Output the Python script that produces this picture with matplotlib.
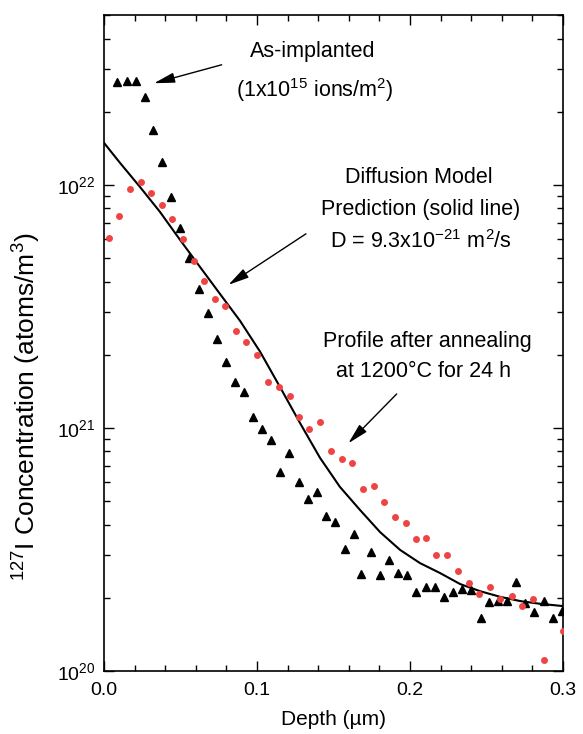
import matplotlib
matplotlib.use("Agg")
import matplotlib.pyplot as plt
from matplotlib.ticker import MultipleLocator, LogLocator, NullFormatter, LogFormatterMathtext, FormatStrFormatter

plt.rcParams['font.family'] = ['Liberation Sans', 'DejaVu Sans']
plt.rcParams['mathtext.fontset'] = 'custom'
plt.rcParams['mathtext.rm'] = 'Liberation Sans'
plt.rcParams['mathtext.it'] = 'Liberation Sans:italic'
plt.rcParams['mathtext.default'] = 'regular'

# As-implanted profile (triangles)
implanted_depth = [0.0087, 0.0148, 0.0207, 0.0268, 0.0322, 0.0381, 0.0440, 0.0499, 0.0558, 0.0619,
                   0.0678, 0.0739, 0.0799, 0.0858, 0.0917, 0.0976, 0.1035, 0.1093, 0.1152, 0.1211,
                   0.1273, 0.1333, 0.1392, 0.1453, 0.1512, 0.1573, 0.1634, 0.1682, 0.1743, 0.1804,
                   0.1863, 0.1924, 0.1982, 0.2042, 0.2103, 0.2163, 0.2222, 0.2283, 0.2342, 0.2401,
                   0.2462, 0.2514, 0.2573, 0.2634, 0.2693, 0.2754, 0.2812, 0.2874, 0.2933, 0.2993]
implanted_conc = [2.65e22, 2.68e22, 2.68e22, 2.30e22, 1.68e22, 1.24e22, 8.90e21, 6.63e21, 4.99e21, 3.72e21,
                  2.97e21, 2.32e21, 1.87e21, 1.54e21, 1.41e21, 1.11e21, 9.88e20, 8.90e20, 6.61e20, 7.87e20,
                  5.98e20, 5.10e20, 5.44e20, 4.33e20, 4.12e20, 3.19e20, 3.67e20, 2.50e20, 3.08e20, 2.48e20,
                  2.87e20, 2.54e20, 2.49e20, 2.11e20, 2.22e20, 2.22e20, 2.02e20, 2.12e20, 2.17e20, 2.15e20,
                  1.66e20, 1.93e20, 1.95e20, 1.95e20, 2.32e20, 1.90e20, 1.75e20, 1.94e20, 1.65e20, 1.77e20]

# Profile after annealing (red circles)
annealed_depth = [0.0033, 0.0100, 0.0170, 0.0240, 0.0309, 0.0377, 0.0446, 0.0518, 0.0585, 0.0655,
                  0.0725, 0.0794, 0.0861, 0.0931, 0.1002, 0.1072, 0.1144, 0.1214, 0.1276, 0.1343,
                  0.1413, 0.1482, 0.1554, 0.1623, 0.1693, 0.1763, 0.1832, 0.1902, 0.1973, 0.2042,
                  0.2103, 0.2173, 0.2242, 0.2312, 0.2384, 0.2451, 0.2521, 0.2590, 0.2665, 0.2732,
                  0.2804, 0.2874, 0.3000]
annealed_conc = [6.07e21, 7.46e21, 9.63e21, 1.026e22, 9.23e21, 8.25e21, 7.27e21, 6.00e21, 4.88e21, 4.03e21,
                 3.39e21, 3.17e21, 2.51e21, 2.26e21, 2.00e21, 1.55e21, 1.48e21, 1.35e21, 1.11e21, 9.92e20,
                 1.056e21, 8.02e20, 7.46e20, 7.15e20, 5.61e20, 5.79e20, 4.94e20, 4.30e20, 4.06e20, 3.48e20,
                 3.52e20, 3.01e20, 3.01e20, 2.57e20, 2.30e20, 2.07e20, 2.22e20, 1.98e20, 2.03e20, 1.85e20,
                 1.97e20, 1.11e20, 1.46e20]

# Diffusion model prediction (solid line), D = 9.3e-21 m^2/s
model_depth = [0.0, 0.0105, 0.0235, 0.0366, 0.0497, 0.0627, 0.0758, 0.0889, 0.1020, 0.1150,
               0.1281, 0.1412, 0.1542, 0.1673, 0.1804, 0.1935, 0.2065, 0.2196, 0.2327, 0.2458,
               0.2588, 0.2719, 0.2850, 0.3000]
model_conc = [1.489e22, 1.231e22, 9.81e21, 7.74e21, 5.94e21, 4.60e21, 3.56e21, 2.76e21, 2.06e21, 1.475e21,
              1.048e21, 7.53e20, 5.72e20, 4.60e20, 3.73e20, 3.15e20, 2.78e20, 2.53e20, 2.28e20, 2.13e20,
              2.02e20, 1.94e20, 1.89e20, 1.85e20]

x_ticks = [0.0, 0.1, 0.2, 0.3]

fig = plt.figure(figsize=(5.83, 7.34), dpi=100)
ax = fig.add_axes([104/583, 1-671/734, 459/583, 656/734])

ax.plot(model_depth, model_conc, color='black', lw=1.5, zorder=2, solid_joinstyle='round')
ax.plot(implanted_depth, implanted_conc, ls='none', marker='^', ms=6, color='black', mec='black', zorder=3)
ax.plot(annealed_depth, annealed_conc, ls='none', marker='o', ms=5, color='#EE4444', mec='none', zorder=3)

ax.set_yscale('log')
ax.set_xlim(0, 0.3)
ax.set_ylim(1e20, 5e22)

ax.set_xticks(x_ticks)
ax.xaxis.set_minor_locator(MultipleLocator(0.02))
ax.xaxis.set_major_formatter(FormatStrFormatter('%.1f'))
ax.yaxis.set_major_locator(LogLocator(base=10, numticks=10))
ax.yaxis.set_minor_locator(LogLocator(base=10, subs=range(2, 10), numticks=20))
ax.yaxis.set_minor_formatter(NullFormatter())
ax.yaxis.set_major_formatter(LogFormatterMathtext())

ax.tick_params(which='both', direction='in', top=True, right=True, labelsize=14, width=1)
ax.tick_params(which='major', length=7)
ax.tick_params(which='minor', length=4)
ax.tick_params(axis='x', pad=8)
ax.tick_params(axis='y', pad=6)
for s in ax.spines.values():
    s.set_linewidth(1.2)

ax.set_xlabel('Depth (µm)', fontsize=15, labelpad=8)
ax.set_ylabel('$^{127}$I Concentration (atoms/m$^3$)', fontsize=19)
ax.yaxis.set_label_coords(-0.132, 0.402)

fs = 15.5
ax.text(0.455, 0.944, 'As-implanted', transform=ax.transAxes, ha='center', va='center', fontsize=fs)
ax.text(0.460, 0.886, '(1x10$^{15}$ ions/m$^{2}$)', transform=ax.transAxes, ha='center', va='center', fontsize=fs)
ax.text(0.686, 0.753, 'Diffusion Model', transform=ax.transAxes, ha='center', va='center', fontsize=fs)
ax.text(0.690, 0.703, 'Prediction (solid line)', transform=ax.transAxes, ha='center', va='center', fontsize=fs)
ax.text(0.691, 0.654, 'D = 9.3x10$^{-21}$ m$^{2}$/s', transform=ax.transAxes, ha='center', va='center', fontsize=fs)
ax.text(0.704, 0.502, 'Profile after annealing', transform=ax.transAxes, ha='center', va='center', fontsize=fs)
ax.text(0.695, 0.456, 'at 1200°C for 24 h', transform=ax.transAxes, ha='center', va='center', fontsize=fs)

arrow = dict(arrowstyle='-|>,head_length=0.9,head_width=0.22', color='black', lw=1.0,
             shrinkA=0, shrinkB=0, mutation_scale=14)
ax.annotate('', xy=(0.0327, 2.62e22), xytext=(0.0769, 3.12e22), arrowprops=arrow)
ax.annotate('', xy=(0.0813, 3.88e21), xytext=(0.1320, 6.29e21), arrowprops=arrow)
ax.annotate('', xy=(0.1597, 8.65e20), xytext=(0.1913, 1.38e21), arrowprops=arrow)

fig.savefig('out.png', dpi=100)
